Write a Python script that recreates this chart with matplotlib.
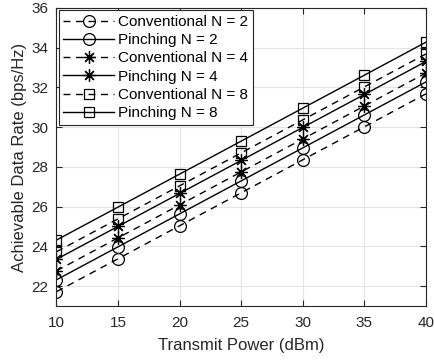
import matplotlib
matplotlib.use("Agg")
import matplotlib.pyplot as plt

plt.rcParams['font.family'] = ['Liberation Sans', 'DejaVu Sans']

power = [10, 15, 20, 25, 30, 35, 40]
conv_n2 = [21.72, 23.38, 25.04, 26.70, 28.36, 30.02, 31.68]
pinch_n2 = [22.32, 23.98, 25.64, 27.30, 28.96, 30.62, 32.28]
conv_n4 = [22.77, 24.43, 26.09, 27.75, 29.41, 31.07, 32.73]
pinch_n4 = [23.35, 25.01, 26.67, 28.33, 29.99, 31.65, 33.31]
conv_n8 = [23.73, 25.39, 27.05, 28.71, 30.37, 32.03, 33.69]
pinch_n8 = [24.32, 25.98, 27.64, 29.30, 30.96, 32.62, 34.28]

series = [
	("Conventional N = 2", conv_n2, '--', 'o', 8.5),
	("Pinching N = 2", pinch_n2, '-', 'o', 8.5),
	("Conventional N = 4", conv_n4, '--', (8, 2, 0), 9),
	("Pinching N = 4", pinch_n4, '-', (8, 2, 0), 9),
	("Conventional N = 8", conv_n8, '--', 's', 6.5),
	("Pinching N = 8", pinch_n8, '-', 's', 6.5),
]

fig = plt.figure(figsize=(4.35, 3.6), dpi=100)
ax = fig.add_axes([56.5/435, 1 - 306/360, (426 - 56.5)/435, (306 - 8)/360])

for label, vals, ls, mk, ms in series:
	ax.plot(power, vals, linestyle=ls, marker=mk, markersize=ms, color='k',
		markerfacecolor='none', markeredgecolor='k', markeredgewidth=0.9,
		linewidth=1.0, label=label, dashes=(5, 4) if ls == '--' else (None, None))

ax.set_xlim(10, 40)
ax.set_ylim(21, 36)
ax.set_xticks(power)
ax.set_yticks([22, 24, 26, 28, 30, 32, 34, 36])
ax.grid(True, color='#e3e3e3', linewidth=0.8)
ax.set_axisbelow(True)
ax.tick_params(direction='in', length=4, labelsize=11, colors='#262626', top=True, right=True,
	labeltop=False, labelright=False)
ax.tick_params(axis='x', pad=7)
ax.tick_params(axis='y', pad=6)
for s in ax.spines.values():
	s.set_color('#262626')
	s.set_linewidth(0.8)

ax.set_xlabel("Transmit Power (dBm)", fontsize=12, color='#262626', labelpad=6)
ax.set_ylabel("Achievable Data Rate (bps/Hz)", fontsize=12, color='#262626', labelpad=3)

leg = ax.legend(loc='upper left', fontsize=11, handlelength=3.3, labelspacing=0.28,
	borderaxespad=0.15, handletextpad=0.3, borderpad=0.3, fancybox=False, framealpha=1)
leg.get_frame().set_edgecolor('#262626')
leg.get_frame().set_linewidth(0.8)

fig.savefig("out.png", dpi=100)
